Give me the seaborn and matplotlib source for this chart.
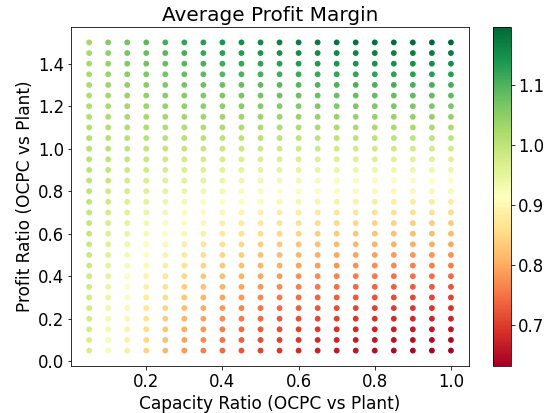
import numpy as np
import pandas as pd
import matplotlib
matplotlib.use("Agg")
import matplotlib.pyplot as plt
import seaborn as sns

capacity_ratio = [0.05, 0.10, 0.15, 0.20, 0.25, 0.30, 0.35, 0.40, 0.45, 0.50,
                  0.55, 0.60, 0.65, 0.70, 0.75, 0.80, 0.85, 0.90, 0.95, 1.00]
profit_ratio = [0.05, 0.10, 0.15, 0.20, 0.25, 0.30, 0.35, 0.40, 0.45, 0.50,
                0.55, 0.60, 0.65, 0.70, 0.75, 0.80, 0.85, 0.90, 0.95, 1.00,
                1.05, 1.10, 1.15, 1.20, 1.25, 1.30, 1.35, 1.40, 1.45, 1.50]

# one row per profit ratio (bottom to top), one column per capacity ratio
avg_margin = [
    [0.971, 0.923, 0.881, 0.845, 0.813, 0.786, 0.762, 0.742, 0.724, 0.708, 0.695, 0.683, 0.673, 0.665, 0.657, 0.651, 0.645, 0.640, 0.636, 0.632],
    [0.973, 0.926, 0.885, 0.850, 0.820, 0.793, 0.770, 0.750, 0.733, 0.718, 0.705, 0.694, 0.684, 0.676, 0.668, 0.662, 0.656, 0.652, 0.647, 0.644],
    [0.975, 0.930, 0.891, 0.857, 0.827, 0.802, 0.780, 0.760, 0.744, 0.729, 0.717, 0.706, 0.697, 0.689, 0.682, 0.675, 0.670, 0.666, 0.662, 0.658],
    [0.977, 0.934, 0.896, 0.864, 0.835, 0.811, 0.790, 0.772, 0.756, 0.742, 0.730, 0.720, 0.711, 0.703, 0.696, 0.690, 0.685, 0.681, 0.677, 0.674],
    [0.979, 0.938, 0.902, 0.871, 0.844, 0.821, 0.801, 0.783, 0.768, 0.755, 0.744, 0.734, 0.725, 0.718, 0.711, 0.706, 0.701, 0.697, 0.693, 0.690],
    [0.981, 0.942, 0.908, 0.879, 0.853, 0.831, 0.812, 0.795, 0.781, 0.769, 0.758, 0.748, 0.740, 0.733, 0.727, 0.722, 0.717, 0.713, 0.710, 0.707],
    [0.983, 0.946, 0.914, 0.886, 0.862, 0.841, 0.823, 0.808, 0.794, 0.783, 0.772, 0.763, 0.756, 0.749, 0.743, 0.738, 0.734, 0.730, 0.727, 0.724],
    [0.985, 0.950, 0.920, 0.894, 0.872, 0.852, 0.835, 0.821, 0.808, 0.797, 0.787, 0.779, 0.772, 0.766, 0.760, 0.756, 0.751, 0.748, 0.745, 0.742],
    [0.987, 0.954, 0.926, 0.902, 0.881, 0.863, 0.847, 0.834, 0.822, 0.811, 0.803, 0.795, 0.788, 0.782, 0.777, 0.773, 0.769, 0.766, 0.763, 0.761],
    [0.989, 0.959, 0.933, 0.910, 0.891, 0.874, 0.859, 0.847, 0.836, 0.826, 0.818, 0.811, 0.805, 0.799, 0.795, 0.791, 0.787, 0.784, 0.781, 0.779],
    [0.991, 0.963, 0.939, 0.919, 0.901, 0.885, 0.872, 0.860, 0.850, 0.841, 0.834, 0.827, 0.822, 0.817, 0.812, 0.809, 0.805, 0.803, 0.800, 0.798],
    [0.992, 0.967, 0.946, 0.927, 0.911, 0.897, 0.885, 0.874, 0.865, 0.857, 0.850, 0.844, 0.839, 0.834, 0.830, 0.827, 0.824, 0.821, 0.819, 0.817],
    [0.994, 0.972, 0.952, 0.936, 0.921, 0.908, 0.897, 0.888, 0.879, 0.872, 0.866, 0.861, 0.856, 0.852, 0.849, 0.845, 0.843, 0.841, 0.839, 0.837],
    [0.996, 0.976, 0.959, 0.944, 0.931, 0.920, 0.910, 0.902, 0.894, 0.888, 0.883, 0.878, 0.874, 0.870, 0.867, 0.864, 0.862, 0.860, 0.858, 0.857],
    [0.998, 0.981, 0.966, 0.953, 0.942, 0.932, 0.923, 0.916, 0.910, 0.904, 0.899, 0.895, 0.891, 0.888, 0.886, 0.883, 0.881, 0.879, 0.878, 0.877],
    [1.000, 0.985, 0.973, 0.962, 0.952, 0.944, 0.936, 0.930, 0.925, 0.920, 0.916, 0.912, 0.909, 0.907, 0.904, 0.902, 0.901, 0.899, 0.898, 0.897],
    [1.002, 0.990, 0.980, 0.970, 0.963, 0.956, 0.950, 0.945, 0.940, 0.936, 0.933, 0.930, 0.928, 0.925, 0.923, 0.922, 0.920, 0.919, 0.918, 0.917],
    [1.004, 0.995, 0.986, 0.979, 0.973, 0.968, 0.963, 0.959, 0.956, 0.953, 0.950, 0.948, 0.946, 0.944, 0.943, 0.941, 0.940, 0.939, 0.938, 0.938],
    [1.006, 0.999, 0.993, 0.988, 0.984, 0.980, 0.977, 0.974, 0.971, 0.969, 0.967, 0.966, 0.964, 0.963, 0.962, 0.961, 0.960, 0.960, 0.959, 0.959],
    [1.008, 1.004, 1.000, 0.997, 0.995, 0.992, 0.990, 0.989, 0.987, 0.986, 0.985, 0.984, 0.983, 0.982, 0.982, 0.981, 0.981, 0.980, 0.980, 0.979],
    [1.010, 1.009, 1.008, 1.007, 1.006, 1.005, 1.004, 1.004, 1.003, 1.003, 1.002, 1.002, 1.002, 1.001, 1.001, 1.001, 1.001, 1.001, 1.001, 1.001],
    [1.012, 1.013, 1.015, 1.016, 1.017, 1.017, 1.018, 1.019, 1.019, 1.020, 1.020, 1.020, 1.021, 1.021, 1.021, 1.021, 1.021, 1.022, 1.022, 1.022],
    [1.014, 1.018, 1.022, 1.025, 1.028, 1.030, 1.032, 1.034, 1.035, 1.037, 1.038, 1.039, 1.040, 1.040, 1.041, 1.042, 1.042, 1.043, 1.043, 1.043],
    [1.016, 1.023, 1.029, 1.034, 1.039, 1.043, 1.046, 1.049, 1.052, 1.054, 1.056, 1.057, 1.059, 1.060, 1.061, 1.062, 1.063, 1.064, 1.064, 1.065],
    [1.018, 1.028, 1.036, 1.043, 1.050, 1.055, 1.060, 1.064, 1.068, 1.071, 1.074, 1.076, 1.078, 1.080, 1.081, 1.083, 1.084, 1.085, 1.086, 1.087],
    [1.020, 1.032, 1.043, 1.053, 1.061, 1.068, 1.074, 1.080, 1.084, 1.088, 1.092, 1.095, 1.098, 1.100, 1.102, 1.104, 1.105, 1.106, 1.107, 1.108],
    [1.022, 1.037, 1.051, 1.062, 1.072, 1.081, 1.089, 1.095, 1.101, 1.106, 1.110, 1.114, 1.117, 1.120, 1.122, 1.124, 1.126, 1.128, 1.129, 1.130],
    [1.024, 1.042, 1.058, 1.072, 1.084, 1.094, 1.103, 1.111, 1.118, 1.123, 1.129, 1.133, 1.137, 1.140, 1.143, 1.145, 1.148, 1.149, 1.151, 1.152],
    [1.026, 1.047, 1.065, 1.081, 1.095, 1.107, 1.118, 1.127, 1.134, 1.141, 1.147, 1.152, 1.157, 1.160, 1.164, 1.167, 1.169, 1.171, 1.173, 1.175],
    [1.028, 1.052, 1.073, 1.091, 1.107, 1.120, 1.132, 1.142, 1.151, 1.159, 1.166, 1.171, 1.176, 1.181, 1.185, 1.188, 1.191, 1.193, 1.195, 1.197],
]

# ——— Long table for seaborn ———
cap_grid, prof_grid = np.meshgrid(capacity_ratio, profit_ratio)
df = pd.DataFrame({
    "capacity": cap_grid.ravel(),
    "profit": prof_grid.ravel(),
    "margin": np.array(avg_margin).ravel(),
})

vmin, vmax = df["margin"].min(), df["margin"].max()
norm = plt.Normalize(vmin, vmax)
cmap = plt.get_cmap("RdYlGn")

# ——— Plot (72 dpi so points == pixels) ———
fig = plt.figure(figsize=(545 / 72, 413 / 72), dpi=72)
ax = fig.add_axes([0.1303, 0.1138, 0.7303, 0.8208])
cax = fig.add_axes([0.9046, 0.1138, 0.0330, 0.8208])

sns.scatterplot(data=df, x="capacity", y="profit", hue="margin",
                palette=cmap, hue_norm=norm, s=34, linewidth=0,
                legend=False, ax=ax)

ax.set_title("Average Profit Margin", fontsize=20)
ax.set_xlabel("Capacity Ratio (OCPC vs Plant)", fontsize=17)
ax.set_ylabel("Profit Ratio (OCPC vs Plant)", fontsize=17)
ax.tick_params(labelsize=16.5)

sm = plt.cm.ScalarMappable(norm=norm, cmap=cmap)
cb = fig.colorbar(sm, cax=cax)
cb.ax.tick_params(labelsize=16.5)

fig.savefig("out.png", dpi=72)
